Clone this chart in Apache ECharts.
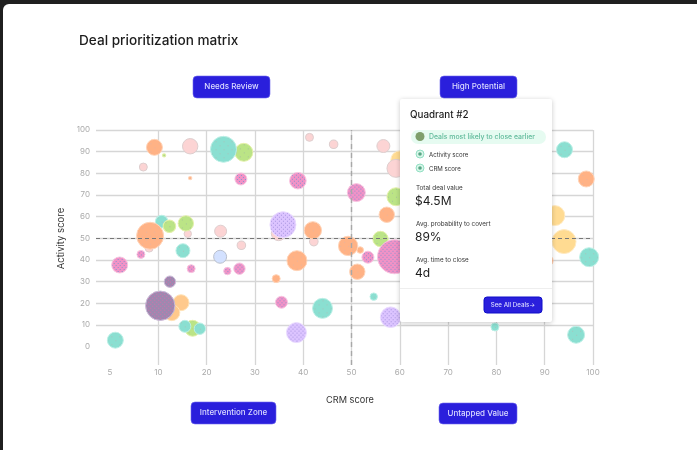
<!DOCTYPE html>
<html><head><meta charset="utf-8">
<style>
html,body{margin:0;padding:0;width:697px;height:450px;background:#1f1f1f;overflow:hidden}
#bg{position:absolute;left:3px;top:4px;right:-10px;bottom:-10px;background:#fff;border-radius:6px}
#c{position:absolute;left:0;top:0;width:697px;height:450px}
</style></head><body><div id="bg"></div><div id="c"></div>
<script src="https://cdn.jsdelivr.net/npm/echarts@6/dist/echarts.min.js"></script>
<script>
const xTickValues=[0,10,20,30,40,50,60,70,80,90,100];
const xTickLabels=['5','10','20','30','40','50','60','70','80','90','100'];
const yTickValues=[0,10,20,30,40,50,60,70,80,90,100];
// each deal: [crm position, activity score, bubble radius]
const yellowDeals=[[60,86.2,9],[92.1,60.5,10],[94,48.5,12]];
const pinkDeals=[[16.6,92.5,7.7],[6.9,82.9,4],[16.1,52.1,3.7],[22.9,53.3,6],[8.1,45.5,4],[27.2,46.8,4.3],[41.3,96.6,4],[46.3,93.4,4.3],[56.6,92.6,6.5],[59.2,82.3,9],[34.9,52.3,7.3],[42.2,48.5,4.3]];
const tealBackDeals=[[10.7,57.7,6.3]];
const greenDeals=[[11.2,88.3,1.7],[12.3,55.6,6.3],[15.7,56.9,7.7],[27.7,89.7,9],[17.1,8.5,8],[59.2,69.2,9],[56,49.7,7.7]];
const tealDeals=[[23.5,91.1,13],[15.1,44.3,7],[15.5,9.4,6],[18.6,8.3,5.7],[1.1,3,8],[44,17.7,10],[54.6,23.1,3.7],[79.7,9.1,4],[94.1,90.9,8],[99.2,41.3,9.5],[96.5,5.5,8.5]];
const orangeDeals=[[9.2,92,8],[16.6,77.8,1.7],[8.3,51.2,13.5],[42,53.7,8.7],[51.8,44.6,3.3],[49.3,46.5,9.7],[38.7,39.7,10],[51.2,34.6,7.7],[34.4,31.4,4],[57.3,60.9,7.7],[98.6,77.4,8],[90.5,39.7,6]];
const apricotDeals=[[14.7,20.3,8],[12.8,15.7,8]];
const blueDeals=[[22.8,41.5,6.5]];
const magentaDeals=[[27.1,77.4,6],[6.4,42.6,4],[2,37.7,8],[16.8,36,4],[24.3,34.9,3.7],[26.8,36,5.7],[38.9,76.6,8.3],[51,71.1,9],[58.9,41.5,17],[53.4,41.3,6],[35.5,20.5,6]];
const purpleDeals=[[35.8,56.3,13],[38.6,6.5,10],[58.1,13.6,10.3]];
const plumDeals=[[12.4,30,5.7],[10.4,18.9,14.7]];
const quadrantLabels=['Needs Review','High Potential','Intervention Zone','Untapped Value'];

const INK='#2a1fdc',FONT='Inter';
function tile(base,dot,cell){
  const k=document.createElement('canvas');k.width=k.height=cell;
  const g=k.getContext('2d');g.fillStyle=base;g.fillRect(0,0,cell,cell);
  g.fillStyle=dot;g.fillRect(0,0,1,1);g.fillRect(cell/2,cell/2,1,1);
  return k;
}
function bubbles(name,data,color,border,dot,cell){
  const image=dot?tile(color,dot,cell):null;
  const items=data.map(d=>image?{value:d,itemStyle:{color:{image,repeat:'repeat',scaleX:1/d[2],scaleY:1/d[2]}}}:{value:d});
  return {name,type:'scatter',data:items,z:2,symbolSize:d=>d[2]*2,silent:true,itemStyle:{color,opacity:1,borderColor:border,borderWidth:1}};
}
function btn(x,y,w,h,t){return [
  {type:'rect',z:20,shape:{x,y,width:w,height:h,r:4},style:{fill:INK,stroke:'#6f68ee',lineWidth:.6}},
  {type:'text',z:21,style:{x:x+w/2,y:y+h/2,text:t,fill:'#dcdcff',font:'500 8px '+FONT,align:'center',verticalAlign:'middle'}}];}
function txt(x,y,t,size,fill,weight){return {type:'text',z:31,style:{x,y,text:t,fill:fill||'#222',font:(weight||400)+' '+size+'px '+FONT,verticalAlign:'middle'}};}
function dotIcon(x,y,c){return [
  {type:'circle',z:31,shape:{cx:x,cy:y,r:4},style:{fill:'#d8f7ea',stroke:'#7fd8b8',lineWidth:.8}},
  {type:'circle',z:32,shape:{cx:x,cy:y,r:1.8},style:{fill:c}}];}

const chart=echarts.init(document.getElementById('c'),null,{renderer:'canvas'});
chart.setOption({
  animation:false,backgroundColor:'transparent',
  title:{text:'Deal prioritization matrix',left:74,top:29,textStyle:{fontFamily:FONT,fontSize:13.6,fontWeight:500,color:'#1c1c1c'}},
  grid:{left:96,right:104,top:130,bottom:85,containLabel:false},
  xAxis:{type:'value',min:-2.9,max:100,name:'CRM score',nameLocation:'middle',nameGap:31,
    nameTextStyle:{fontFamily:FONT,fontSize:9.2,color:'#333',padding:[0,0,0,11]},
    axisLine:{show:false},
    axisTick:{show:false,customValues:xTickValues},
    axisLabel:{customValues:xTickValues,formatter:v=>xTickLabels[xTickValues.indexOf(v)],fontFamily:FONT,fontSize:8,color:'#aaa',margin:3.5},
    splitLine:{show:true,showMinLine:false,lineStyle:{color:'#d6d6d6',width:1.3}}},
  yAxis:{type:'value',min:-8.45,max:100,name:'Activity score',nameLocation:'middle',nameGap:28,
    nameTextStyle:{fontFamily:FONT,fontSize:9.5,color:'#333',padding:[0,0,0,18]},
    axisLine:{show:false},
    axisTick:{show:false,customValues:yTickValues},
    axisLabel:{customValues:yTickValues,fontFamily:FONT,fontSize:8,color:'#aaa',margin:6},
    splitLine:{show:true,showMinLine:false,lineStyle:{color:'#d6d6d6',width:1.3}}},
  series:[
    {type:'scatter',data:[],z:1,silent:true,markLine:{silent:true,symbol:'none',label:{show:false},animation:false,
      data:[{xAxis:50,lineStyle:{color:'#a8a8a8',width:1.4,type:[5,4]}},{yAxis:50,lineStyle:{color:'#777',width:1,type:[4,3]}}]}},
    bubbles('Pending',yellowDeals,'#ffdb92','#ffeac2'),
    bubbles('Cold',pinkDeals,'#fcd4d4','#ddcece'),
    bubbles('Open',tealBackDeals,'#8adfd1','#bcefe6','#a8c4bc',8),
    bubbles('Warm',greenDeals,'#bbe486','#e4f0aa','#a8c49a',8),
    bubbles('Closing',tealDeals,'#8adfd1','#bcefe6','#a8c4bc',8),
    bubbles('Active',orangeDeals,'#ffb285','#ffd4b8','#eab49c',8),
    bubbles('Held',apricotDeals,'#ffc98c','#ffe3b8'),
    bubbles('New',blueDeals,'#d3e1ff','#b9bfcc'),
    bubbles('Stalled',magentaDeals,'#f292c6','#f9c4e0','#8a94d0',4),
    bubbles('Review',purpleDeals,'#dcc4ff','#ebdcff','#a896e0',4),
    bubbles('Lost',plumDeals,'#9d89b0','#cbbbd8','#d870ac',4)
  ],
  graphic:[
    ...btn(193,76,77,22,quadrantLabels[0]),
    ...btn(440,76,77,22,quadrantLabels[1]),
    ...btn(191,402,85,22,quadrantLabels[2]),
    ...btn(439,403,78,21,quadrantLabels[3]),
    {type:'rect',z:30,shape:{x:400,y:99,width:152,height:223,r:2},style:{fill:'#fff',shadowBlur:5,shadowColor:'rgba(0,0,0,.22)',shadowOffsetY:1}},
    txt(410,115,'Quadrant #2',9.8,'#1c1c1c',500),
    {type:'rect',z:31,shape:{x:411,y:130,width:135,height:14,r:7},style:{fill:'#e6fbf1'}},
    {type:'circle',z:32,shape:{cx:420,cy:136.5,r:4.5},style:{fill:'#7f9f6c'}},
    txt(429,137,'Deals most likely to close earlier',6.9,'#62bb9c',500),
    ...dotIcon(420,154,'#5aa585'),txt(429,155,'Activity score',6.1,'#333'),
    ...dotIcon(420,168,'#5aa585'),txt(429,169,'CRM score',6.1,'#333'),
    txt(416,188,'Total deal value',6.3,'#333'),
    txt(415,201,'$4.5M',12,'#1c1c1c'),
    txt(416,224,'Avg. probability to covert',6.3,'#333'),
    txt(415,237,'89%',12,'#1c1c1c'),
    txt(416,260,'Avg. time to close',6.3,'#333'),
    txt(415,273,'4d',12,'#1c1c1c'),
    {type:'line',z:31,shape:{x1:400,y1:288.5,x2:552,y2:288.5},style:{stroke:'#eee',lineWidth:1}},
    {type:'rect',z:31,shape:{x:484,y:297,width:58,height:16,r:3},style:{fill:INK,stroke:'#0f0fc8',lineWidth:1}},
    {type:'text',z:32,style:{x:513,y:305,text:'See All Deals→',fill:'#dcdcff',font:'500 6.2px '+FONT,align:'center',verticalAlign:'middle'}}
  ]
});
</script></body></html>
